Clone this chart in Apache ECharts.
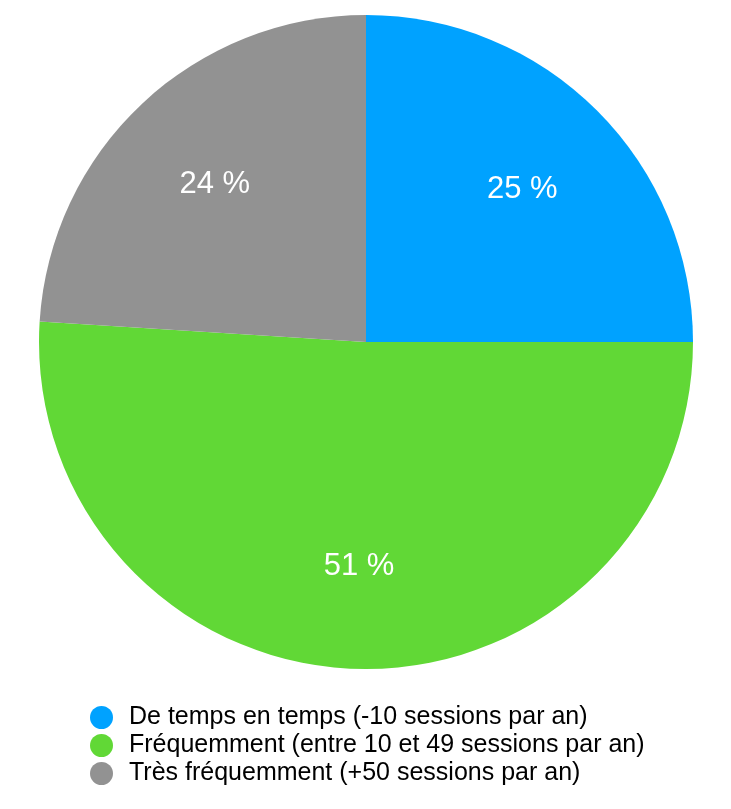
<!DOCTYPE html>
<html>
<head>
<meta charset="utf-8">
<script src="https://cdn.jsdelivr.net/npm/echarts@6/dist/echarts.min.js"></script>
<style>
html,body{margin:0;padding:0;background:#fff;}
#chart{width:731px;height:809px;}
</style>
</head>
<body>
<div id="chart"></div>
<script>
const categories = [
  "De temps en temps (-10 sessions par an)",
  "Fréquemment (entre 10 et 49 sessions par an)",
  "Très fréquemment (+50 sessions par an)"
];
const values = [25, 51, 24];
const colors = ["#00A2FF", "#61D836", "#929292"];

const chart = echarts.init(document.getElementById('chart'), null, {renderer: 'canvas'});
const pieData = categories.map((c, i) => ({name: c, value: values[i], itemStyle: {color: colors[i]}}));
const labelData = categories.map((c, i) => ({name: c, value: values[i]}));
const FONT = '"Liberation Sans", Arial, Helvetica, sans-serif';

chart.setOption({
  animation: false,
  legend: {
    orient: 'vertical',
    left: 90,
    top: 705,
    padding: 0,
    icon: 'circle',
    itemWidth: 23,
    itemHeight: 23,
    itemGap: 3,
    selectedMode: false,
    data: categories.map((c, i) => ({name: c, itemStyle: {color: colors[i]}})),
    textStyle: {fontFamily: FONT, fontSize: 25, lineHeight: 25, color: '#000', padding: [0, 0, 0, 11]}
  },
  series: [
    {
      type: 'pie',
      center: [366, 342],
      radius: 327,
      startAngle: 90,
      clockwise: true,
      silent: true,
      label: {show: false},
      labelLine: {show: false},
      itemStyle: {borderWidth: 0},
      data: pieData
    },
    {
      type: 'pie',
      center: [366, 342],
      radius: [109, 327],
      startAngle: 90,
      clockwise: true,
      silent: true,
      itemStyle: {color: 'rgba(0,0,0,0)', borderWidth: 0},
      label: {
        show: true,
        position: 'inside',
        formatter: '{c} %',
        color: '#fff',
        fontFamily: FONT,
        fontSize: 31,
        offset: [0, 4]
      },
      labelLine: {show: false},
      data: labelData
    }
  ]
});
</script>
</body>
</html>
